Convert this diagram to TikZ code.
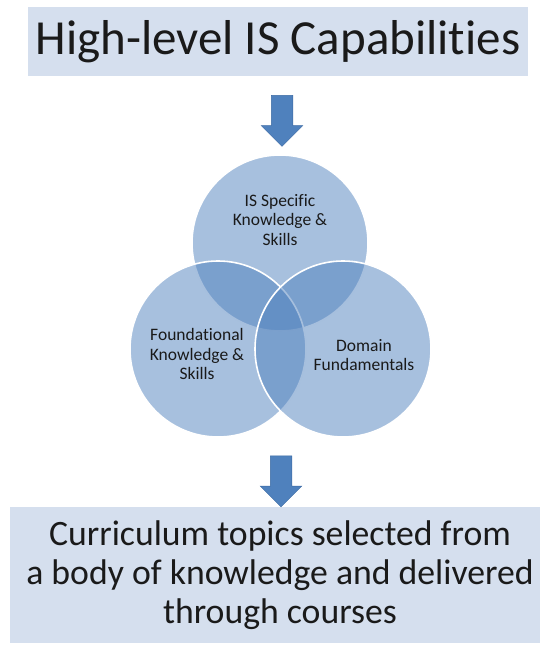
\documentclass[tikz,border=0pt]{standalone}
\usepackage{fontspec}
\setmainfont{Carlito}[Ligatures=NoCommon]
\usetikzlibrary{shapes.arrows}
\definecolor{kasten}{HTML}{D5DFEE}
\definecolor{blau}{HTML}{4F81BD}
\definecolor{dblau}{HTML}{3C6AA3}
\definecolor{schrift}{HTML}{1A1A1A}
\tikzset{
  kastenbox/.style={fill=kasten,draw=none,inner sep=0pt,text=schrift},
  kreis/.style={circle,minimum size=176pt,inner sep=0pt,fill=blau,fill opacity=0.5,draw=white,draw opacity=1,line width=1.6pt},
  kreistext/.style={align=center,font=\fontsize{17.5}{19.5}\selectfont,text=schrift},
  blockpfeil/.style={single arrow,shape border rotate=270,fill=blau,draw=dblau,line width=0.5pt,
    minimum height=51pt,single arrow head extend=10pt,inner sep=10.5pt},
}

\begin{document}
\begin{tikzpicture}[x=1pt,y=-1pt]
  \useasboundingbox (0,0) rectangle (540,647);
  % boxes
  \fill[kasten] (28,7) rectangle (528,76);
  \node[kastenbox,font=\fontsize{49}{55}\selectfont] (ziel) at (278,42) {High-level IS Capabilities};
  \fill[kasten] (10,507) rectangle (540,643);
  \node[kastenbox,align=center,font=\fontsize{35.7}{39.3}\selectfont] (kurse) at (280,575)
    {Curriculum topics selected from\\ a body of knowledge and delivered\\ through courses};
  % arrows
  \node[blockpfeil] (pf1) at (282,115.5) {};
  \node[blockpfeil] (pf2) at (281,476) {};
  % venn
  \node[kreis] (isk) at (280,243) {};
  \node[kreis] (grund) at (218,349) {};
  \node[kreis] (dom) at (343,349) {};
  \node[kreistext] (iskt) at (isk.center) [yshift=23pt] {IS Specific\\ Knowledge \&\\ Skills};
  \node[kreistext] (grundt) at (197,354) {Foundational\\ Knowledge \&\\ Skills};
  \node[kreistext] (domt) at (364,355) {Domain\\ Fundamentals};
\end{tikzpicture}
\end{document}
